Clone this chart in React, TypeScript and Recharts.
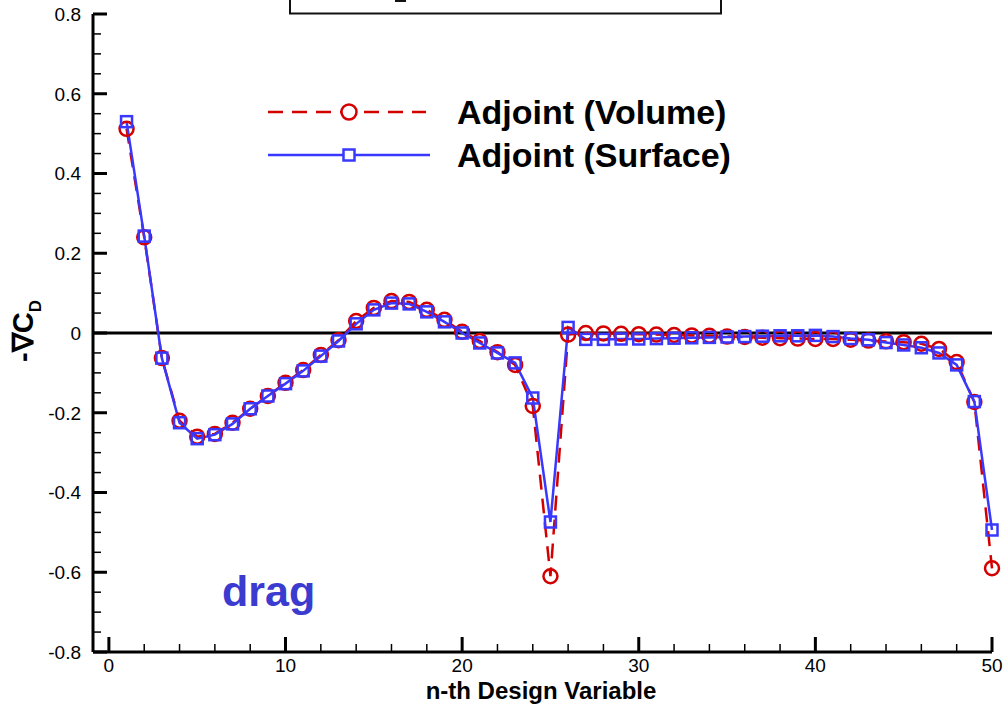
import React from "react";
import { LineChart, Line, XAxis, YAxis, ReferenceLine } from "recharts";

// n-th design variable and the two gradient series (-dCD)
const designVar = [
  1, 2, 3, 4, 5, 6, 7, 8, 9, 10, 11, 12, 13, 14, 15, 16, 17, 18, 19, 20, 21, 22, 23, 24, 25,
  26, 27, 28, 29, 30, 31, 32, 33, 34, 35, 36, 37, 38, 39, 40, 41, 42, 43, 44, 45, 46, 47, 48, 49, 50,
];
const volumeGrad = [
  0.512, 0.24, -0.063, -0.22, -0.26, -0.253, -0.225, -0.19, -0.158, -0.125, -0.093, -0.055, -0.018,
  0.03, 0.063, 0.08, 0.078, 0.058, 0.033, 0.003, -0.02, -0.048, -0.08, -0.183, -0.61,
  -0.004, 0.0, -0.001, -0.002, -0.003, -0.004, -0.005, -0.006, -0.007, -0.009, -0.01, -0.012, -0.013,
  -0.014, -0.015, -0.015, -0.017, -0.019, -0.021, -0.023, -0.027, -0.04, -0.073, -0.173, -0.59,
];
const surfaceGrad = [
  0.53, 0.243, -0.063, -0.225, -0.265, -0.255, -0.228, -0.19, -0.158, -0.127, -0.095, -0.058, -0.02,
  0.023, 0.058, 0.075, 0.073, 0.053, 0.028, 0.0, -0.025, -0.05, -0.075, -0.163, -0.474,
  0.014, -0.016, -0.016, -0.015, -0.015, -0.014, -0.013, -0.012, -0.011, -0.01, -0.009, -0.008, -0.007,
  -0.007, -0.006, -0.009, -0.014, -0.017, -0.024, -0.03, -0.037, -0.05, -0.08, -0.172, -0.494,
];

const xMajorTicks = [0, 10, 20, 30, 40, 50];
const xMinorTicks = [2, 4, 6, 8, 12, 14, 16, 18, 22, 24, 26, 28, 32, 34, 36, 38, 42, 44, 46, 48];
const yMajorTicks = [-0.8, -0.6, -0.4, -0.2, 0, 0.2, 0.4, 0.6, 0.8];
const yMinorTicks = [
  -0.75, -0.7, -0.65, -0.55, -0.5, -0.45, -0.35, -0.3, -0.25, -0.15, -0.1, -0.05,
  0.05, 0.1, 0.15, 0.25, 0.3, 0.35, 0.45, 0.5, 0.55, 0.65, 0.7, 0.75,
];

const seriesNames = ["Adjoint (Volume)", "Adjoint (Surface)"];

const RED = "#d40000";
const BLUE = "#3838ff";
const FONT = "'Liberation Sans', Arial, Helvetica, sans-serif";

const data = designVar.map((n, i) => ({
  n,
  volume: volumeGrad[i],
  surface: surfaceGrad[i],
}));

const fmtY = (v: number) => (Math.abs(v) < 1e-9 ? "0" : v.toFixed(1));

function YTick(props: any) {
  const { x, y, payload } = props;
  const v = payload.value;
  const major = yMajorTicks.some((t) => Math.abs(t - v) < 1e-6);
  return (
    <g>
      <line x1={x} x2={x + (major ? 14 : 8)} y1={y} y2={y} stroke="#000" strokeWidth={major ? 3 : 1.5} />
      {major && (
        <text x={x - 12} y={y} dy="0.36em" textAnchor="end" fontSize={19} fontFamily={FONT} fill="#000">
          {fmtY(v)}
        </text>
      )}
    </g>
  );
}

function XTick(props: any) {
  const { x, y, payload } = props;
  const v = payload.value;
  const major = xMajorTicks.includes(v);
  return (
    <g>
      <line x1={x} x2={x} y1={y} y2={y - (major ? 15 : 8)} stroke="#000" strokeWidth={major ? 3 : 1.5} />
      {major && (
        <text x={x} y={y + 13} dy="0.36em" textAnchor="middle" fontSize={19} fontFamily={FONT} fill="#000">
          {v}
        </text>
      )}
    </g>
  );
}

function CircleDot(props: any) {
  const { cx, cy, index } = props;
  return <circle key={`c-${index}`} cx={cx} cy={cy} r={7} fill="none" stroke={RED} strokeWidth={2.5} />;
}

function SquareDot(props: any) {
  const { cx, cy, index } = props;
  return (
    <rect key={`s-${index}`} x={cx - 5.5} y={cy - 5.5} width={11} height={11} fill="none" stroke={BLUE} strokeWidth={2.5} />
  );
}

export default function App() {
  return (
    <div style={{ position: "absolute", left: 0, top: 0, width: 1004, height: 705, background: "#fff" }}>
      <LineChart
        width={1004}
        height={705}
        data={data}
        margin={{ top: 14, right: 12, left: 0, bottom: 0 }}
      >
        <XAxis
          dataKey="n"
          type="number"
          domain={[-0.9, 50]}
          ticks={[...xMajorTicks, ...xMinorTicks].sort((a, b) => a - b)}
          interval={0}
          height={53}
          axisLine={{ stroke: "#000", strokeWidth: 3 }}
          tickLine={false}
          tickSize={0}
          tickMargin={0}
          tick={<XTick />}
          allowDecimals
        />
        <YAxis
          type="number"
          domain={[-0.8, 0.8]}
          ticks={[...yMajorTicks, ...yMinorTicks].sort((a, b) => a - b)}
          interval={0}
          width={93}
          axisLine={{ stroke: "#000", strokeWidth: 3 }}
          tickLine={false}
          tickSize={0}
          tickMargin={0}
          tick={<YTick />}
        />
        <ReferenceLine y={0} stroke="#000" strokeWidth={3} />
        <Line
          dataKey="volume"
          name={seriesNames[0]}
          type="linear"
          stroke={RED}
          strokeWidth={2.5}
          strokeDasharray="15 9"
          dot={<CircleDot />}
          isAnimationActive={false}
        />
        <Line
          dataKey="surface"
          name={seriesNames[1]}
          type="linear"
          stroke={BLUE}
          strokeWidth={2.5}
          dot={<SquareDot />}
          isAnimationActive={false}
        />
      </LineChart>

      <svg
        width={1004}
        height={705}
        style={{ position: "absolute", left: 0, top: 0, pointerEvents: "none" }}
      >
        {/* clipped title box at the top */}
        <rect x={290} y={-20} width={431} height={33.5} fill="none" stroke="#111" strokeWidth={2} />
        <line x1={395} x2={406} y1={1} y2={1} stroke="#111" strokeWidth={2} />

        {/* legend */}
        <line x1={268} x2={426} y1={112} y2={112} stroke={RED} strokeWidth={2.5} strokeDasharray="15 9" />
        <circle cx={349} cy={112} r={7.5} fill="#fff" stroke={RED} strokeWidth={2.5} />
        <text x={457} y={124} fontSize={34} fontWeight="bold" fontFamily={FONT} fill="#000">
          {seriesNames[0]}
        </text>
        <line x1={268} x2={430} y1={155} y2={155} stroke={BLUE} strokeWidth={2.5} />
        <rect x={343.5} y={149.5} width={11} height={11} fill="#fff" stroke={BLUE} strokeWidth={2.5} />
        <text x={457} y={167} fontSize={34} fontWeight="bold" fontFamily={FONT} fill="#000">
          {seriesNames[1]}
        </text>

        {/* annotation */}
        <text x={222} y={606} fontSize={43} fontWeight="bold" fontFamily={FONT} fill="#3b3bcf">
          drag
        </text>

        {/* axis titles */}
        <text x={541} y={699} textAnchor="middle" fontSize={24} fontWeight="bold" fontFamily={FONT} fill="#000">
          n-th Design Variable
        </text>
        <text
          transform="translate(33,331) rotate(-90)"
          textAnchor="middle"
          fontSize={29}
          fontWeight="bold"
          fontFamily={FONT}
          fill="#000"
        >
          -∇C
          <tspan fontSize={17} dy={8}>D</tspan>
        </text>
      </svg>
    </div>
  );
}
